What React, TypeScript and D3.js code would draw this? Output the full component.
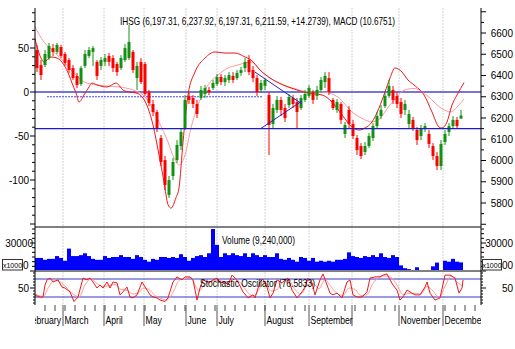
import React from 'react';
import * as d3 from 'd3';

const W = 515;
const H = 349;

// IHSG candles, one bar per two trading days (Feb .. mid Dec)
const opens = [
  6520, 6449, 6449, 6482, 6529, 6511, 6534, 6501, 6473, 6435,
  6398, 6360, 6445, 6492, 6511, 6464, 6445, 6464, 6492, 6482,
  6454, 6435, 6473, 6482, 6511, 6388, 6464, 6454, 6322, 6266,
  6228, 6106, 6002, 5838, 5927, 6002, 6068, 6153, 6304, 6294,
  6266, 6294, 6313, 6332, 6341, 6360, 6393, 6369, 6379, 6398,
  6388, 6412, 6435, 6473, 6426, 6388, 6332, 6351, 6308, 6172,
  6238, 6285, 6247, 6261, 6294, 6275, 6247, 6285, 6304, 6322,
  6304, 6332, 6369, 6388, 6285, 6238, 6266, 6125, 6238, 6172,
  6106, 6068, 6040, 6068, 6106, 6162, 6209, 6256, 6304, 6332,
  6304, 6275, 6238, 6172, 6191, 6144, 6115, 6148, 6125, 6068,
  6021, 5974, 6087, 6134, 6162, 6191, 6197.31
];
const highs = [
  6544, 6473, 6520, 6553, 6548, 6553, 6544, 6511, 6482, 6449,
  6412, 6445, 6520, 6534, 6539, 6473, 6487, 6501, 6506, 6496,
  6464, 6496, 6548, 6638, 6520, 6464, 6482, 6464, 6332, 6285,
  6238, 6120, 6021, 5927, 6012, 6096, 6153, 6308, 6322, 6308,
  6285, 6351, 6355, 6346, 6379, 6407, 6407, 6402, 6416, 6416,
  6426, 6440, 6482, 6496, 6445, 6402, 6379, 6388, 6322, 6266,
  6304, 6299, 6266, 6313, 6308, 6294, 6308, 6332, 6355, 6332,
  6351, 6393, 6416, 6416, 6294, 6289, 6275, 6181, 6256, 6191,
  6120, 6082, 6087, 6129, 6176, 6228, 6261, 6318, 6379, 6351,
  6322, 6294, 6285, 6238, 6205, 6158, 6167, 6176, 6144, 6082,
  6040, 6096, 6144, 6176, 6209, 6205, 6237.92
];
const lows = [
  6416, 6379, 6440, 6473, 6492, 6501, 6482, 6445, 6412, 6379,
  6341, 6351, 6435, 6482, 6445, 6379, 6426, 6445, 6445, 6416,
  6398, 6426, 6464, 6473, 6412, 6332, 6360, 6304, 6256, 6209,
  6134, 5974, 5861, 5824, 5908, 5988, 6049, 6144, 6266, 6247,
  6200, 6285, 6294, 6308, 6332, 6351, 6355, 6351, 6365, 6365,
  6379, 6398, 6416, 6402, 6369, 6304, 6318, 6332, 6026, 6153,
  6224, 6209, 6181, 6247, 6247, 6153, 6238, 6275, 6294, 6266,
  6285, 6322, 6341, 6308, 6238, 6224, 6172, 6106, 6153, 6101,
  6026, 6007, 6026, 6059, 6092, 6153, 6195, 6247, 6294, 6266,
  6247, 6200, 6214, 6153, 6139, 6073, 6096, 6134, 6059, 6002,
  5955, 5955, 6073, 6115, 6153, 6148, 6197.31
];
const closes = [
  6435, 6402, 6501, 6539, 6511, 6544, 6492, 6459, 6426, 6388,
  6355, 6435, 6501, 6520, 6529, 6398, 6473, 6482, 6464, 6435,
  6416, 6482, 6529, 6558, 6426, 6445, 6369, 6313, 6271, 6228,
  6153, 5993, 5885, 5908, 5993, 6073, 6134, 6285, 6285, 6266,
  6219, 6332, 6341, 6322, 6365, 6393, 6369, 6388, 6402, 6379,
  6412, 6426, 6464, 6416, 6388, 6322, 6365, 6379, 6167, 6247,
  6285, 6238, 6200, 6299, 6266, 6228, 6294, 6313, 6341, 6285,
  6332, 6379, 6398, 6322, 6247, 6275, 6191, 6167, 6172, 6115,
  6049, 6021, 6068, 6115, 6162, 6209, 6238, 6304, 6351, 6285,
  6266, 6219, 6266, 6219, 6153, 6096, 6153, 6162, 6078, 6021,
  5974, 6078, 6125, 6162, 6191, 6162, 6211.59
];
const volumes = [
  14000, 14000, 12000, 13000, 13000, 16000, 14000, 11000, 24000, 16000,
  16000, 17000, 19000, 16000, 13000, 12000, 12000, 16000, 14000, 15000,
  15000, 17000, 15000, 15000, 13000, 17000, 15000, 12000, 10000, 13000,
  12000, 15000, 15000, 14000, 15000, 14000, 18000, 15000, 11000, 14000,
  16000, 17000, 15000, 19000, 45000, 28000, 15000, 19000, 17000, 19000,
  17000, 16000, 19000, 15000, 19000, 17000, 15000, 17000, 15000, 15000,
  19000, 13000, 12000, 14000, 12000, 10000, 15000, 14000, 11000, 14000,
  10000, 11000, 10000, 11000, 10000, 12000, 12000, 13000, 20000, 16000,
  15000, 14000, 16000, 15000, 17000, 15000, 19000, 15000, 14000, 17000,
  15000, 6000, 3000, 2000, 1000, 4000, 1000, 1000, 1000, 5000,
  9000, 1000, 11000, 10000, 13000, 10000, 9240
];

// MACD and its signal, sampled at bar positions
const macdAt = [-0.75, 1, 1.75, 3.5, 5, 6.75, 8, 8.75, 9.75, 10.5, 11.75, 13, 13.75, 15, 17.5, 19.75, 21.5, 23,
  24.75, 26.5, 27.75, 29, 30.5, 31.75, 32.75, 33.5, 34.75, 35.5, 36.5, 37.75, 39.5, 42, 44.5, 47, 49.5, 52, 53.5,
  55.75, 58.25, 61.5, 65, 67.5, 71.25, 73.75, 76.25, 78.75, 80.5, 82, 83.75, 85.5, 87, 88.25, 89.5, 91.25, 92.75,
  94.25, 96.75, 98.75, 100.5, 101.25, 102.5, 103.75, 105, 106.75];
const macdVal = [64.8, 38.6, 34.1, 39.8, 38.6, 30.7, 19.3, 10.2, -1.1, -11.4, -3.4, 5.7, 10.2, 8, 5.7, 10.2, 2.3, 0,
  -1.1, -6.8, -18.2, -37.5, -71.6, -102, -128, -132, -120, -109, -56.8, -3.4, 22.7, 38.6, 45.5, 44.3, 44.3, 39.8, 36.4,
  25, 15.9, 8, 2.3, -1.1, -3.4, -11.4, -26.1, -39.8, -43.2, -40.9, -34.1, -18.2, 0, 15.9, 27.3, 22.7, 13.6,
  8, -3.4, -22.7, -39.8, -40.9, -34.1, -14.8, -3.4, 10.6751];
const signalAt = [-0.75, 1.75, 4.25, 6.75, 9.25, 11.75, 15, 17.5, 20.5, 24, 26.5, 28, 30.5, 32.75, 34.25, 35.5, 37,
  38.5, 40.25, 42.75, 45.25, 47.75, 50.25, 53.5, 56.5, 60, 64, 68.25, 71.5, 75.5, 78.75, 81.25, 83.75, 85.75, 88,
  89.5, 91.75, 94.25, 97.5, 101, 103.5, 105, 106.75];
const signalVal = [76, 56.8, 45.5, 34.1, 21.6, 11.4, 8, 6.8, 5.7, 2.3, -3.4, -11.4, -34.1, -56.8, -75, -83, -71.6,
  -40.9, -14.8, 8, 19.3, 27.3, 30.7, 34.1, 21.6, 11.4, 4.5, 0, 0, -6.8, -22.7, -30, -34, -30, -16,
  -8, 2, 4, -4, -18.2, -22.7, -17, -8];

// stochastic oscillator
const stochAt = [-0.5, 0.75, 1.5, 2, 2.5, 3.25, 4, 5.25, 6.25, 7, 8.25, 9.25, 10.25, 11.5, 12.5, 13.25, 14, 15, 15.75,
  16.5, 17.5, 18.25, 19, 20, 20.75, 21.5, 22.5, 23.25, 24, 25, 26.25, 27.5, 28.25, 29, 30, 30.75, 32, 32.75, 34, 35,
  36.25, 37, 38.25, 39, 40, 40.75, 41.5, 42.5, 43.25, 44, 45, 45.75, 47, 47.75, 48.75, 49.5, 50.25, 51.5, 52.75, 54,
  54.5, 55.75, 56.5, 57.5, 58.25, 59, 60, 61.25, 62, 62.75, 63.75, 65, 66.25, 67, 67.75, 68.75, 69.5, 70.75, 71.5,
  72.5, 73.25, 74, 75, 76.25, 77.5, 78.25, 79, 80, 81.25, 82.5, 83.25, 84.5, 85.75, 86.5, 87.5, 88.25, 89, 90, 90.75,
  91.5, 92.5, 93.25, 94.5, 95.75, 97, 97.5, 98.25, 99.5, 100.75, 102, 103.25, 104.5, 105.5, 106.25, 106.5];
const stochK = [26, 20, 20, 60, 77, 83, 70, 77, 53, 50, 37, 5, 20, 83, 77, 83, 70, 50, 60,
  50, 70, 50, 70, 67, 27, 37, 53, 20, 17, 27, 70, 43, 27, 20, 17, 10, 5, 17, 70, 87,
  77, 87, 87, 77, 10, 50, 77, 70, 70, 77, 83, 67, 70, 60, 93, 83, 70, 37, 17, 27,
  17, 70, 80, 53, 17, 33, 77, 67, 77, 83, 43, 17, 37, 53, 83, 67, 27, 77, 97,
  60, 33, 27, 33, 17, 70, 77, 27, 20, 20, 37, 83, 87, 87, 93, 97, 77, 60, 43, 10,
  20, 43, 37, 27, 27, 53, 70, 33, 10, 17, 93, 93, 83, 33, 50, 76.5833];
const stochDAt = [-0.5, 1.5, 3, 4.5, 6, 7.5, 9, 10.5, 12, 13.5, 15, 16.5, 18, 19.5, 21, 22.5, 24, 25.5, 26.5, 28, 29.5,
  31, 32.5, 34, 35.5, 37, 38.5, 39.5, 40.5, 42, 43.5, 45, 46.5, 48, 49.5, 51, 52.5, 54, 55.5, 57, 58.5, 60, 61.5,
  63, 64.5, 66, 67.5, 69, 70.5, 72, 73.5, 75, 76.5, 78, 79.5, 81, 82.5, 84, 85.5, 87, 88.5, 90, 91.5, 93, 94.5, 96,
  97.5, 99, 100.5, 102, 103.5, 105, 106.5];
const stochD = [30, 22, 55, 77, 68, 50, 30, 20, 60, 80, 65, 55, 58, 62, 45, 42, 30, 35, 50, 45, 25,
  15, 10, 35, 75, 82, 85, 60, 40, 62, 72, 76, 72, 70, 80, 65, 38, 22, 45, 68, 40, 45, 70,
  75, 45, 30, 58, 65, 48, 78, 55, 32, 25, 50, 45, 25, 28, 65, 85, 90, 85, 60, 28, 32, 32, 30,
  55, 40, 18, 55, 90, 70, 55];

const months = ['February', 'March', 'April', 'May', 'June', 'July', 'August', 'September', '', 'November', 'December'];
const monthStart = [-3, 6.5, 16.75, 26.75, 37.25, 45, 57, 68, 78.75, 90.5, 101.5];

// drawn studies on the price pane
const supportLevel = 6150;
const dottedLevel = { from: 2.5, to: 56.25, price: 6300 };
const trendLines = [
  { x1: 54.5, p1: 6416, x2: 66.25, p2: 6266 },
  { x1: 55.75, p1: 6148, x2: 66.25, p2: 6280 }
];

const title = 'IHSG (6,197.31, 6,237.92, 6,197.31, 6,211.59, +14.2739), MACD (10.6751)';

const FONT = "'Liberation Sans', Arial, sans-serif";
const UP = '#129212';
const DOWN = '#ff0000';

const L = 35;
const R = 481;

export default function App() {
  const x = d3.scaleLinear().domain([0, 106]).range([37, 461]);
  const yPrice = d3.scaleLinear().domain([5800, 6600]).range([203, 33]);
  const yMacd = d3.scaleLinear().domain([-100, 50]).range([180, 48]);
  const yVol = d3.scaleLinear().domain([0, 30000]).range([271, 243]);
  const yStoch = d3.scaleLinear().domain([0, 100]).range([303, 273]);

  const macdLine = d3.line<number>()
    .x((d, i) => x(macdAt[i]))
    .y(d => yMacd(d))
    .curve(d3.curveMonotoneX);
  const signalLine = d3.line<number>()
    .x((d, i) => x(signalAt[i]))
    .y(d => yMacd(d))
    .curve(d3.curveMonotoneX);
  const kLine = d3.line<number>()
    .x((d, i) => x(stochAt[i]))
    .y(d => yStoch(d));
  const dLine = d3.line<number>()
    .x((d, i) => x(stochDAt[i]))
    .y(d => yStoch(d))
    .curve(d3.curveMonotoneX);

  const leftTicks = d3.range(-150, 91, 10);
  const rightTicks = d3.range(5700, 6701, 50);
  const volTicks = d3.range(0, 45001, 5000);
  const stochTicks = d3.range(0, 101, 10);
  const weekTicks = d3.range(-3, 110, 2.5).map(d => x(d)).filter(v => v > L && v < R);

  return (
    <svg width={W} height={H} style={{ position: 'absolute', left: 0, top: 0, background: '#fff' }}
      fontFamily={FONT}>
      <defs>
        <clipPath id="plot"><rect x={L} y={8} width={R - L} height={219} /></clipPath>
        <clipPath id="xlab"><rect x={L} y={305} width={R - L} height={30} /></clipPath>
      </defs>

      {/* month grid */}
      {monthStart.map((m, i) => (
        <line key={'g' + i} x1={x(m)} x2={x(m)} y1={8} y2={305} stroke="#d4d4d4" strokeDasharray="2,1"
          display={x(m) < L ? 'none' : null} />
      ))}

      {/* volume */}
      {volumes.map((v, i) => (
        <rect key={'v' + i} x={x(i) - 2} width={4} y={yVol(v)} height={yVol(0) - yVol(v)} fill="#0000ff" />
      ))}

      <g clipPath="url(#plot)">
        <line x1={L} x2={R} y1={yMacd(0)} y2={yMacd(0)} stroke="#7474dc" strokeWidth={2} />
        <line x1={x(dottedLevel.from)} x2={x(dottedLevel.to)} y1={yPrice(dottedLevel.price)}
          y2={yPrice(dottedLevel.price)} stroke="#4a4af0" strokeDasharray="2,1" />
        <path d={signalLine(signalVal) || ''} fill="none" stroke="#ff9a9a" strokeWidth={1} />
        <path d={macdLine(macdVal) || ''} fill="none" stroke="#f01818" strokeWidth={1} />

        {closes.map((c, i) => {
          const o = opens[i];
          const col = c >= o ? UP : DOWN;
          const top = yPrice(Math.max(o, c));
          const bot = yPrice(Math.min(o, c));
          return (
            <g key={'c' + i}>
              <line x1={x(i)} x2={x(i)} y1={yPrice(highs[i])} y2={yPrice(lows[i])} stroke={col} strokeWidth={1} />
              <rect x={x(i) - 1.5} width={3} y={top} height={Math.max(1, bot - top)} fill={col} />
            </g>
          );
        })}

        <line x1={L} x2={R} y1={yPrice(supportLevel)} y2={yPrice(supportLevel)} stroke="#1c1cc8" strokeWidth={1.2} />
        {trendLines.map((t, i) => (
          <line key={'t' + i} x1={x(t.x1)} y1={yPrice(t.p1)} x2={x(t.x2)} y2={yPrice(t.p2)}
            stroke="#2424c8" strokeWidth={1} />
        ))}
      </g>

      {/* stochastic */}
      <line x1={L} x2={R} y1={yStoch(80)} y2={yStoch(80)} stroke="#3434d0" />
      <line x1={L} x2={R} y1={yStoch(20)} y2={yStoch(20)} stroke="#3434d0" />
      <path d={dLine(stochD) || ''} fill="none" stroke="#ff9a9a" strokeWidth={1} />
      <path d={kLine(stochK) || ''} fill="none" stroke="#f01818" strokeWidth={1} />

      {/* pane separators */}
      <line x1={L} x2={R} y1={227} y2={227} stroke="#808080" strokeWidth={2} />
      <line x1={L} x2={R} y1={271} y2={271} stroke="#808080" strokeWidth={2} />

      {/* axes */}
      <line x1={L} x2={L} y1={8} y2={305} stroke="#000" />
      <line x1={R} x2={R} y1={8} y2={305} stroke="#000" />

      {leftTicks.filter(t => yMacd(t) > 9 && yMacd(t) < 226).map(t => (
        <line key={'lt' + t} x1={L - (t % 50 === 0 ? 5 : 3)} x2={L} y1={yMacd(t)} y2={yMacd(t)} stroke="#000" />
      ))}
      {[50, 0, -50, -100].map(t => (
        <text key={'ll' + t} x={29} y={yMacd(t) + 3.5} fontSize={10} textAnchor="end">{t}</text>
      ))}
      {rightTicks.filter(t => yPrice(t) > 9 && yPrice(t) < 226).map(t => (
        <line key={'rt' + t} x1={R} x2={R + (t % 100 === 0 ? 5 : 3)} y1={yPrice(t)} y2={yPrice(t)} stroke="#000" />
      ))}
      {d3.range(5800, 6601, 100).map(t => (
        <text key={'rl' + t} x={513} y={yPrice(t) + 3.5} fontSize={10} textAnchor="end">{t}</text>
      ))}

      {volTicks.map(t => (
        <g key={'vt' + t}>
          <line x1={L - (t % 30000 === 0 ? 5 : 3)} x2={L} y1={yVol(t)} y2={yVol(t)} stroke="#000" />
          <line x1={R} x2={R + (t % 30000 === 0 ? 5 : 3)} y1={yVol(t)} y2={yVol(t)} stroke="#000" />
        </g>
      ))}
      <text x={33} y={yVol(30000) + 3.5} fontSize={10} textAnchor="end">30000</text>
      <text x={513} y={yVol(30000) + 3.5} fontSize={10} textAnchor="end">30000</text>
      <text x={28.5} y={268.5} fontSize={10} textAnchor="end">0</text>
      <text x={513} y={268.5} fontSize={10} textAnchor="end">00</text>
      <rect x={2.5} y={259.5} width={20} height={10.5} fill="#fff" stroke="#333" />
      <text x={12.5} y={267.5} fontSize={7} textAnchor="middle">x1000</text>
      <rect x={482.5} y={259.5} width={19} height={10.5} fill="#fff" stroke="#333" />
      <text x={492} y={267.5} fontSize={7} textAnchor="middle">x1000</text>

      {stochTicks.map(t => (
        <g key={'st' + t}>
          <line x1={L - (t === 50 ? 5 : 2)} x2={L} y1={yStoch(t)} y2={yStoch(t)} stroke="#000" />
          <line x1={R} x2={R + (t === 50 ? 5 : 2)} y1={yStoch(t)} y2={yStoch(t)} stroke="#000" />
        </g>
      ))}
      <text x={29} y={yStoch(50) + 3.5} fontSize={10} textAnchor="end">50</text>
      <text x={513} y={yStoch(50) + 3.5} fontSize={10} textAnchor="end">50</text>

      {/* time axis */}
      {weekTicks.map((v, i) => (
        <line key={'w' + i} x1={v} x2={v} y1={305} y2={311} stroke="#444" />
      ))}
      {monthStart.map((m, i) => x(m) > L ? (
        <line key={'mt' + i} x1={x(m)} x2={x(m)} y1={305} y2={326} stroke="#555" />
      ) : null)}
      <g clipPath="url(#xlab)">
        {months.map((m, i) => (
          <g key={'ml' + i} transform={`translate(${x(monthStart[i]) + 1.5},324) scale(0.865,1)`}>
            <text fontSize={10}>{m}</text>
          </g>
        ))}
      </g>

      {/* captions */}
      <text x={120} y={25} fontSize={11} textLength={275} lengthAdjust="spacingAndGlyphs">{title}</text>
      <text x={222} y={244} fontSize={11} textLength={73} lengthAdjust="spacingAndGlyphs">Volume (9,240,000)</text>
      <text x={200} y={287} fontSize={11} textLength={115} lengthAdjust="spacingAndGlyphs">Stochastic Oscillator (76.5833)</text>
    </svg>
  );
}
